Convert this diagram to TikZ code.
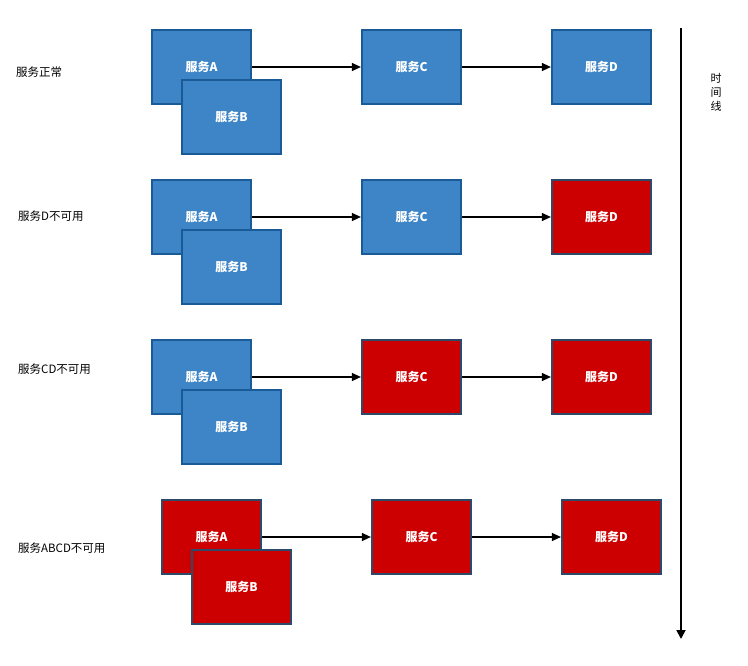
\documentclass[tikz,border=0pt]{standalone}
\usepackage{fontspec}
\setmainfont{Noto Sans CJK SC}
\usetikzlibrary{arrows.meta}
\definecolor{svcblue}{HTML}{3D85C6}
\definecolor{svcblueedge}{HTML}{1A5A96}
\definecolor{svcred}{HTML}{CC0000}
\definecolor{svcrededge}{HTML}{2E4A6B}
\begin{document}
\begin{tikzpicture}[x=1pt,y=-1pt,
  svc/.style={draw, line width=2.2pt, minimum width=99pt, minimum height=74pt, inner sep=0pt,
    text=white, font=\fontsize{12}{14}\selectfont\bfseries},
  upbox/.style={svc, fill=svcblue, draw=svcblueedge},
  downbox/.style={svc, fill=svcred, draw=svcrededge},
  rowlabel/.style={anchor=west, inner sep=0pt, font=\fontsize{11.5}{13}\selectfont},
  flow/.style={line width=1.3pt, -{Triangle[length=9pt,width=8pt]}}]
\useasboundingbox (0,0) rectangle (748,665);
% row 1
\node[rowlabel] (l1) at (16,72) {服务正常};
\node[upbox] (a1) at (201.5,67) {服务A};
\node[upbox] (b1) at (231.5,117) {服务B};
\node[upbox] (c1) at (411.5,67) {服务C};
\node[upbox] (d1) at (601.5,67) {服务D};
\draw[flow] (a1.east) -- (c1.west);
\draw[flow] (c1.east) -- (d1.west);
% row 2
\node[rowlabel] (l2) at (18,216) {服务D不可用};
\node[upbox] (a2) at (201.5,217) {服务A};
\node[upbox] (b2) at (231.5,267) {服务B};
\node[upbox] (c2) at (411.5,217) {服务C};
\node[downbox] (d2) at (601.5,217) {服务D};
\draw[flow] (a2.east) -- (c2.west);
\draw[flow] (c2.east) -- (d2.west);
% row 3
\node[rowlabel] (l3) at (18,369) {服务CD不可用};
\node[upbox] (a3) at (201.5,377) {服务A};
\node[upbox] (b3) at (231.5,427) {服务B};
\node[downbox] (c3) at (411.5,377) {服务C};
\node[downbox] (d3) at (601.5,377) {服务D};
\draw[flow] (a3.east) -- (c3.west);
\draw[flow] (c3.east) -- (d3.west);
% row 4
\node[rowlabel] (l4) at (18,548) {服务ABCD不可用};
\node[downbox] (a4) at (211.5,537) {服务A};
\node[downbox] (b4) at (241.5,587) {服务B};
\node[downbox] (c4) at (421.5,537) {服务C};
\node[downbox] (d4) at (611.5,537) {服务D};
\draw[flow] (a4.east) -- (c4.west);
\draw[flow] (c4.east) -- (d4.west);
% time line
\coordinate (t0) at (681,28);
\coordinate (t1) at (681,639);
\draw[line width=1.8pt, -{Triangle[length=9pt,width=9pt]}] (t0) -- (t1);
\node[align=center, inner sep=0pt, font=\fontsize{11}{14}\selectfont] (tl) at (716,92) {时\\间\\线};
\end{tikzpicture}
\end{document}
